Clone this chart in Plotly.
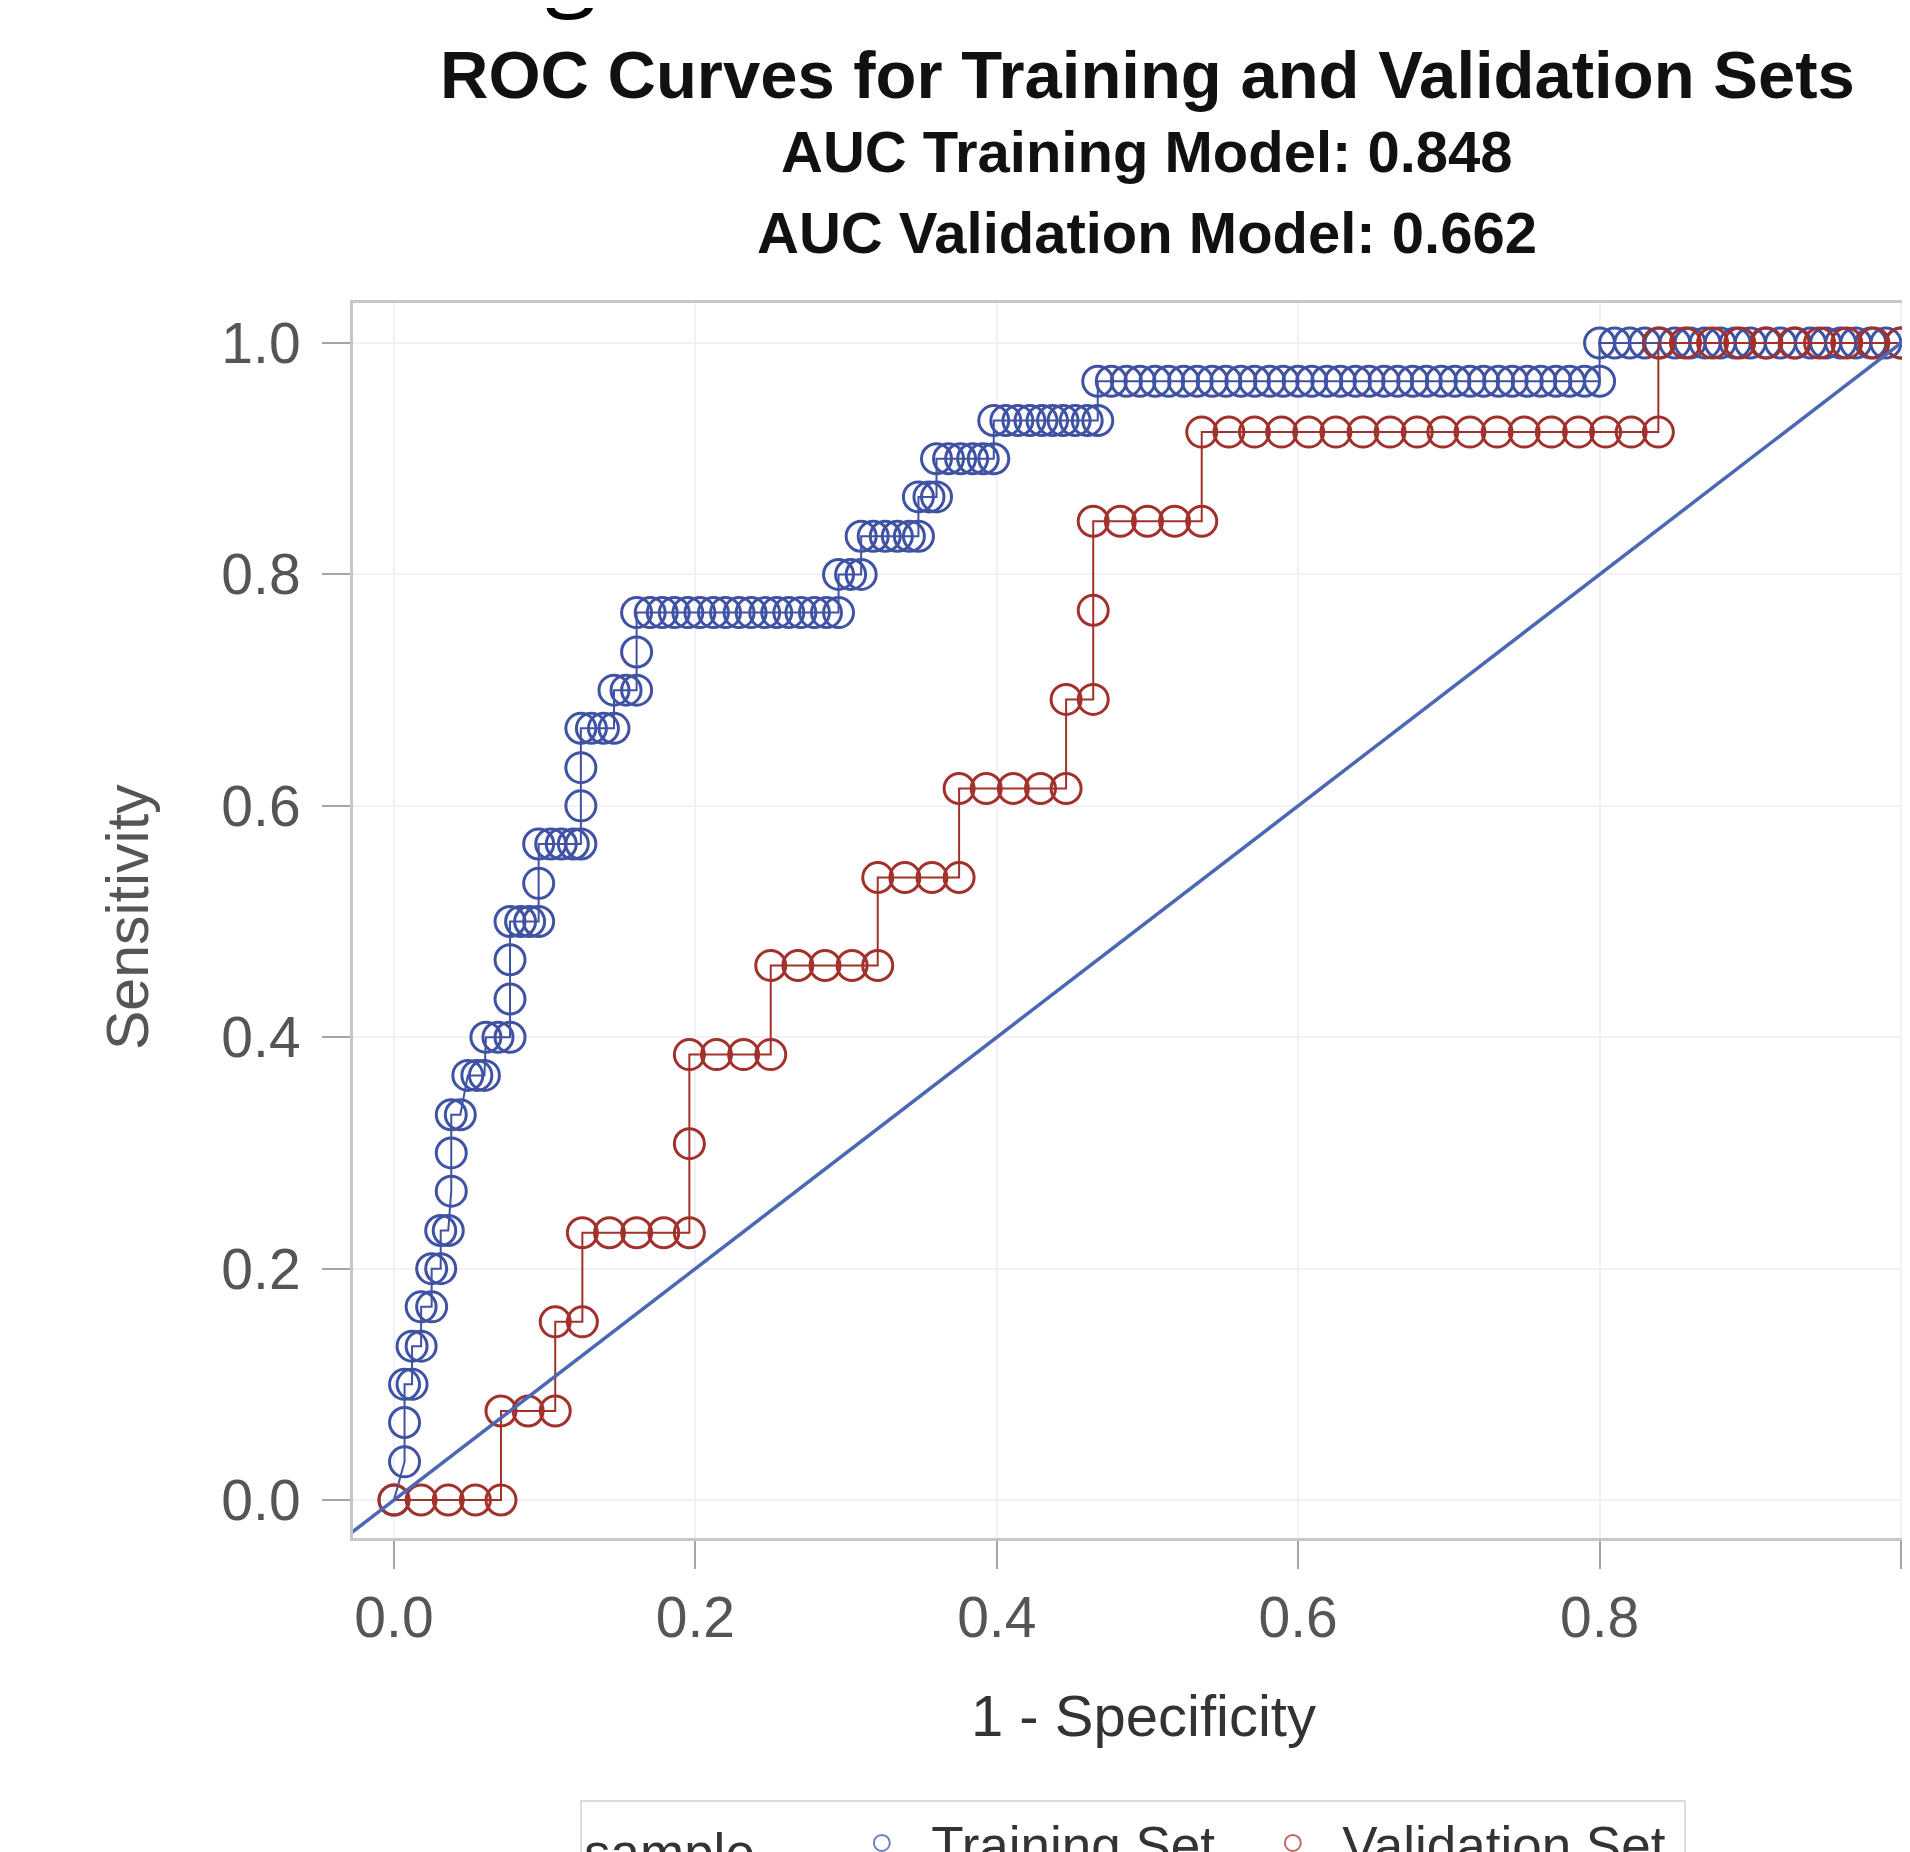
import plotly.graph_objects as go

# ---------------- data ----------------
# Training set ROC (1 - specificity runs at each sensitivity level)
train_levels = [0.000, 0.033, 0.067, 0.100, 0.133, 0.167, 0.200, 0.233, 0.267, 0.300,
                0.333, 0.367, 0.400, 0.433, 0.467, 0.500, 0.533, 0.567, 0.600, 0.633,
                0.667, 0.700, 0.733, 0.767, 0.800, 0.833, 0.867, 0.900, 0.933, 0.967, 1.000]
train_x_runs = [
    [0.000],
    [0.007],
    [0.007],
    [0.007, 0.012],
    [0.012, 0.018],
    [0.018, 0.025],
    [0.025, 0.031],
    [0.031, 0.036],
    [0.038],
    [0.038],
    [0.038, 0.044],
    [0.049, 0.055, 0.060],
    [0.061, 0.069, 0.077],
    [0.077],
    [0.077],
    [0.077, 0.084, 0.090, 0.096],
    [0.096],
    [0.096, 0.104, 0.111, 0.119, 0.124],
    [0.124],
    [0.124],
    [0.124, 0.131, 0.139, 0.146],
    [0.146, 0.154, 0.161],
    [0.161],
    [0.161, 0.170, 0.178, 0.186, 0.195, 0.203, 0.212, 0.220, 0.229, 0.237, 0.246,
     0.254, 0.262, 0.270, 0.279, 0.287, 0.295],
    [0.295, 0.303, 0.310],
    [0.310, 0.318, 0.326, 0.334, 0.342, 0.348],
    [0.348, 0.355, 0.360],
    [0.360, 0.368, 0.376, 0.384, 0.391, 0.398],
    [0.398, 0.406, 0.414, 0.422, 0.430, 0.437, 0.444, 0.452, 0.460, 0.467],
    [0.467, 0.476, 0.486, 0.495, 0.505, 0.514, 0.524, 0.533, 0.543, 0.552, 0.562,
     0.571, 0.581, 0.590, 0.600, 0.609, 0.619, 0.628, 0.638, 0.647, 0.657, 0.666,
     0.676, 0.685, 0.695, 0.704, 0.714, 0.723, 0.733, 0.742, 0.752, 0.761, 0.771,
     0.780, 0.790, 0.800],
    [0.800, 0.810, 0.820, 0.830, 0.840, 0.850, 0.860, 0.870, 0.880, 0.890, 0.900,
     0.910, 0.920, 0.930, 0.940, 0.950, 0.960, 0.970, 0.980, 0.990, 1.000],
]

# Validation set ROC
val_levels = [0.000, 0.077, 0.154, 0.231, 0.308, 0.385, 0.462, 0.538, 0.615, 0.692,
              0.769, 0.846, 0.923, 1.000]
val_x_runs = [
    [0.000, 0.018, 0.036, 0.054, 0.071],
    [0.071, 0.089, 0.107],
    [0.107, 0.125],
    [0.125, 0.143, 0.161, 0.179, 0.196],
    [0.196],
    [0.196, 0.214, 0.232, 0.250],
    [0.250, 0.268, 0.286, 0.304, 0.321],
    [0.321, 0.339, 0.357, 0.375],
    [0.375, 0.393, 0.411, 0.429, 0.446],
    [0.446, 0.464],
    [0.464],
    [0.464, 0.482, 0.500, 0.518, 0.536],
    [0.536, 0.554, 0.571, 0.589, 0.607, 0.625, 0.643, 0.661, 0.679, 0.696, 0.714,
     0.732, 0.750, 0.768, 0.786, 0.804, 0.821, 0.839],
    [0.839, 0.857, 0.875, 0.893, 0.911, 0.929, 0.946, 0.964, 0.982, 1.000],
]

diag_line = [-0.05, 1.05]
tick_vals = [0.0, 0.2, 0.4, 0.6, 0.8, 1.0]
tick_text = ["0.0", "0.2", "0.4", "0.6", "0.8", "1.0"]

title_text = "ROC Curves for Training and Validation Sets"
sub1_text = "AUC Training Model: 0.848"
sub2_text = "AUC Validation Model: 0.662"
series_names = ["Training Set", "Validation Set"]
legend_title = "sample"
cropped_fragment = "g"   # bottom of a cropped heading letter above the chart

# ---------------- styles ----------------
BLUE = "#3f52a3"
RED = "#a2302b"
DIAG = "#4a68b4"
FONT = "Liberation Sans, Arial, sans-serif"
NB = "&nbsp;"


def flatten(levels, runs):
    xs, ys = [], []
    for lv, run in zip(levels, runs):
        for x in run:
            xs.append(x)
            ys.append(lv)
    return xs, ys


tx, ty = flatten(train_levels, train_x_runs)
vx, vy = flatten(val_levels, val_x_runs)

fig = go.Figure()

fig.add_trace(go.Scatter(
    x=tx, y=ty, mode="lines+markers", showlegend=False,
    line=dict(color=BLUE, width=2),
    marker=dict(symbol="circle-open", size=30, color=BLUE, line=dict(width=3, color=BLUE)),
))
fig.add_trace(go.Scatter(
    x=vx, y=vy, mode="lines+markers", showlegend=False,
    line=dict(color=RED, width=2),
    marker=dict(symbol="circle-open", size=30, color=RED, line=dict(width=3, color=RED)),
))
fig.add_trace(go.Scatter(
    x=diag_line, y=diag_line, mode="lines", showlegend=False,
    line=dict(color=DIAG, width=3.5),
))

# legend-only entries
fig.add_trace(go.Scatter(
    x=[None], y=[None], mode="markers", name=NB * 2 + series_names[0],
    marker=dict(symbol="circle-open", size=16, color="#6f7fc0", line=dict(width=2, color="#6f7fc0")),
))
fig.add_trace(go.Scatter(
    x=[None], y=[None], mode="markers", name=NB * 2 + series_names[1],
    marker=dict(symbol="circle-open", size=16, color="#c06a66", line=dict(width=2, color="#c06a66")),
))

W, H = 1910, 1852
L, R, T, B = 345, 0, 295, 322
PW, PH = W - L - R, H - T - B


def px_x(xp):
    return (xp - L) / PW


def px_y(yp):
    return (H - B - yp) / PH


annos = [
    dict(text="<b>%s</b>" % title_text, x=px_x(1139), y=px_y(66),
         font=dict(size=67, color="#111111", family=FONT)),
    dict(text="<b>%s</b>" % sub1_text, x=px_x(1139), y=px_y(143),
         font=dict(size=58, color="#111111", family=FONT)),
    dict(text="<b>%s</b>" % sub2_text, x=px_x(1139), y=px_y(225),
         font=dict(size=58, color="#111111", family=FONT)),
    dict(text="1 - Specificity", x=px_x(1135), y=px_y(1707),
         font=dict(size=58, color="#333333", family=FONT)),
    dict(text="Sensitivity", x=px_x(120), y=px_y(909), textangle=-90,
         font=dict(size=59, color="#555555", family=FONT)),
]
for a in annos:
    a.update(xref="paper", yref="paper", showarrow=False, xanchor="center", yanchor="middle")
annos.append(dict(text=cropped_fragment, x=px_x(563), y=px_y(19), xref="paper", yref="paper",
                  showarrow=False, xanchor="center", yanchor="bottom",
                  font=dict(size=95, color="#000000", family="Open Sans, sans-serif")))
fig.update_layout(annotations=annos)

axis_common = dict(
    tickvals=tick_vals, ticktext=tick_text,
    ticks="outside", ticklen=28, tickwidth=2, tickcolor="#a4a4ac",
    showline=True, mirror=True, linecolor="#c6c6cc", linewidth=3,
    showgrid=True, gridcolor="#f1f1f6", gridwidth=2,
    zeroline=False, automargin=False,
    tickfont=dict(family=FONT, size=57, color="#555555"),
)

fig.update_layout(
    template="none",
    width=W, height=H,
    margin=dict(l=L, r=R, t=T, b=B, autoexpand=False),
    paper_bgcolor="white", plot_bgcolor="white",
    xaxis=dict(range=[-0.0272, 1.0113], **axis_common),
    yaxis=dict(range=[-0.0328, 1.0346], ticklabelstandoff=10, **axis_common),
    showlegend=True,
    legend=dict(
        orientation="h", xref="paper", yref="paper",
        x=px_x(572), y=px_y(1792), xanchor="left", yanchor="top",
        title=dict(text=legend_title + NB * 6 + "&#8201;", side="left",
                   font=dict(family=FONT, size=53, color="#333333")),
        font=dict(family=FONT, size=53, color="#333333"),
        bordercolor="#dadadf", borderwidth=2, bgcolor="white",
        entrywidth=366, entrywidthmode="pixels",
    ),
)

fig.write_html("out.html")
